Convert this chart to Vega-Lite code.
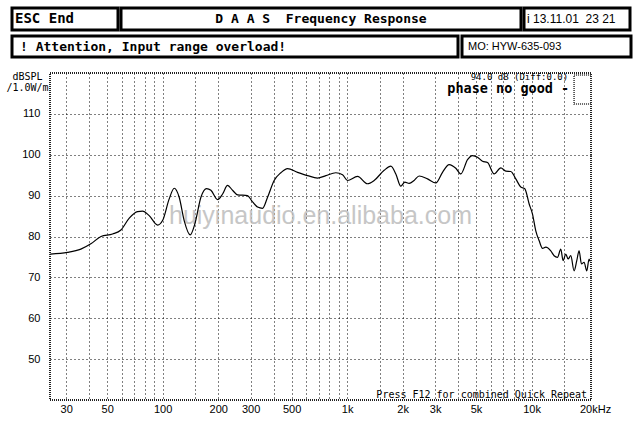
{
  "$schema": "https://vega.github.io/schema/vega-lite/v6.json",
  "padding": {"left": 4, "top": 6, "right": 5, "bottom": 5},
  "background": "white",
  "config": {
    "view": {"stroke": null},
    "axis": {"domain": false, "ticks": false, "labelFont": "Liberation Sans", "labelFontSize": 11, "labelColor": "black"}
  },
  "spacing": 11,
  "vconcat": [
    {
      "spacing": 2,
      "vconcat": [
        {
          "spacing": -1,
          "hconcat": [
            {
              "width": 106, "height": 22,
              "view": {"stroke": "black", "strokeWidth": 3},
              "data": {"values": [{"label": "ESC End"}]},
              "mark": {"type": "text", "align": "left", "baseline": "middle", "dx": 3, "font": "DejaVu Sans Mono", "fontWeight": "bold", "fontSize": 14, "color": "black"},
              "encoding": {"text": {"field": "label"}, "x": {"datum": 0, "scale": {"domain": [0, 1]}, "axis": null}}
            },
            {
              "width": 400, "height": 22,
              "view": {"stroke": "black", "strokeWidth": 3},
              "data": {"values": [{"label": "D A A S\u00a0\u00a0Frequency Response"}]},
              "mark": {"type": "text", "align": "center", "baseline": "middle", "font": "DejaVu Sans Mono", "fontWeight": "bold", "fontSize": 13, "color": "black"},
              "encoding": {"text": {"field": "label"}}
            },
            {
              "width": 106, "height": 22,
              "view": {"stroke": "black", "strokeWidth": 3},
              "data": {"values": [{"label": "i 13.11.01\u00a0 23 21"}]},
              "mark": {"type": "text", "align": "left", "baseline": "middle", "dx": 3, "font": "Liberation Sans", "fontSize": 12, "color": "black"},
              "encoding": {"text": {"field": "label"}, "x": {"datum": 0, "scale": {"domain": [0, 1]}, "axis": null}}
            }
          ]
        },
        {
          "spacing": 0,
          "hconcat": [
            {
              "width": 446, "height": 21,
              "view": {"stroke": "black", "strokeWidth": 3},
              "data": {"values": [{"label": "! Attention, Input range overload!"}]},
              "mark": {"type": "text", "align": "left", "baseline": "middle", "dx": 8, "font": "DejaVu Sans Mono", "fontWeight": "bold", "fontSize": 13, "color": "black"},
              "encoding": {"text": {"field": "label"}, "x": {"datum": 0, "scale": {"domain": [0, 1]}, "axis": null}}
            },
            {
              "width": 169, "height": 21,
              "view": {"stroke": "black", "strokeWidth": 3},
              "data": {"values": [{"label": "MO: HYW-635-093"}]},
              "mark": {"type": "text", "align": "left", "baseline": "middle", "dx": 6, "font": "Liberation Sans", "fontSize": 11, "color": "black"},
              "encoding": {"text": {"field": "label"}, "x": {"datum": 0, "scale": {"domain": [0, 1]}, "axis": null}}
            }
          ]
        }
      ]
    },
    {
      "spacing": -9,
      "hconcat": [
        {
          "width": 1, "height": 327,
          "data": {"values": []},
          "mark": {"type": "point", "opacity": 0},
          "encoding": {}
        },
        {
          "width": 541,
          "height": 327,
          "view": {"stroke": "#222222", "strokeWidth": 2, "strokeDash": [1, 1]},
          "layer": [
            {
              "data": {"values": [{"t": "huiyinaudio.en.alibaba.com"}]},
              "mark": {"type": "text", "font": "Liberation Sans", "fontSize": 25, "color": "#bdbdbd", "opacity": 0.85, "dy": -21},
              "encoding": {"text": {"field": "t"}}
            },
            {
              "data": {"values": [
                {"freq": 24.6, "db": 75.7}, {"freq": 30.5, "db": 76.1}, {"freq": 36, "db": 76.9}, {"freq": 40.8, "db": 78.2},
                {"freq": 46.3, "db": 80.0}, {"freq": 53.5, "db": 80.6}, {"freq": 59.4, "db": 81.6}, {"freq": 65.9, "db": 84.5},
                {"freq": 73.1, "db": 86.1}, {"freq": 77.8, "db": 86.2}, {"freq": 84.5, "db": 85.1}, {"freq": 93.9, "db": 82.8},
                {"freq": 99.9, "db": 83.9}, {"freq": 108.5, "db": 89.2}, {"freq": 115.5, "db": 91.8}, {"freq": 122.9, "db": 89.6},
                {"freq": 130.8, "db": 83.9}, {"freq": 141, "db": 80.4}, {"freq": 149.5, "db": 83.1}, {"freq": 161.2, "db": 89.6},
                {"freq": 173, "db": 91.7}, {"freq": 182.6, "db": 91.3}, {"freq": 198.5, "db": 89.0}, {"freq": 211.3, "db": 90.4},
                {"freq": 224.8, "db": 92.5}, {"freq": 239.3, "db": 91.3}, {"freq": 254.7, "db": 90.2}, {"freq": 288.6, "db": 90.0},
                {"freq": 303.4, "db": 88.8}, {"freq": 326.9, "db": 87.2}, {"freq": 347.9, "db": 86.9}, {"freq": 370.4, "db": 89.6},
                {"freq": 402.2, "db": 93.7}, {"freq": 437.3, "db": 95.6}, {"freq": 475.4, "db": 96.6}, {"freq": 538.6, "db": 95.7},
                {"freq": 610.3, "db": 94.9}, {"freq": 691.4, "db": 94.3}, {"freq": 766.8, "db": 94.9}, {"freq": 868.7, "db": 95.6},
                {"freq": 944.5, "db": 95.1}, {"freq": 1005, "db": 93.7}, {"freq": 1139, "db": 94.7}, {"freq": 1290, "db": 92.9},
                {"freq": 1401, "db": 93.7}, {"freq": 1588, "db": 96.2}, {"freq": 1726, "db": 97.2}, {"freq": 1837, "db": 95.3},
                {"freq": 1955, "db": 92.3}, {"freq": 2055, "db": 93.3}, {"freq": 2169, "db": 93.0}, {"freq": 2308, "db": 93.7},
                {"freq": 2457, "db": 94.8}, {"freq": 2729, "db": 94.1}, {"freq": 3026, "db": 93.1}, {"freq": 3290, "db": 95.7},
                {"freq": 3573, "db": 97.6}, {"freq": 3885, "db": 96.7}, {"freq": 4134, "db": 95.3}, {"freq": 4496, "db": 98.8},
                {"freq": 4785, "db": 99.8}, {"freq": 5092, "db": 99.4}, {"freq": 5420, "db": 98.4}, {"freq": 5769, "db": 98.1},
                {"freq": 6266, "db": 95.3}, {"freq": 6812, "db": 96.8}, {"freq": 7250, "db": 96.0}, {"freq": 7717, "db": 95.9},
                {"freq": 8213, "db": 94.1}, {"freq": 8742, "db": 92.1}, {"freq": 9191, "db": 91.7}, {"freq": 9696, "db": 88.0},
                {"freq": 10116, "db": 85.5}, {"freq": 10541, "db": 81.4}, {"freq": 10985, "db": 79.0}, {"freq": 11462, "db": 77.1},
                {"freq": 11944, "db": 77.4}, {"freq": 12712, "db": 76.5}, {"freq": 13247, "db": 75.3}, {"freq": 13820, "db": 74.9},
                {"freq": 14401, "db": 76.9}, {"freq": 14822, "db": 74.1}, {"freq": 15329, "db": 75.7}, {"freq": 15776, "db": 74.5},
                {"freq": 16316, "db": 75.3}, {"freq": 17002, "db": 71.6}, {"freq": 17583, "db": 74.1}, {"freq": 18097, "db": 76.5},
                {"freq": 18647, "db": 73.3}, {"freq": 19263, "db": 73.7}, {"freq": 19921, "db": 71.6}, {"freq": 20503, "db": 74.5},
                {"freq": 20760, "db": 73.9}
              ]},
              "mark": {"type": "line", "color": "black", "strokeWidth": 1.2, "interpolate": "monotone"},
              "encoding": {
                "x": {
                  "field": "freq", "type": "quantitative",
                  "scale": {"type": "log", "domain": [24.5, 21000], "nice": false},
                  "axis": {
                    "title": null,
                    "values": [30, 40, 50, 60, 70, 80, 90, 100, 150, 200, 300, 400, 500, 600, 700, 800, 900, 1000, 1500, 2000, 3000, 4000, 5000, 6000, 7000, 8000, 9000, 10000, 15000, 20000],
                    "grid": true, "gridDash": [1, 3], "gridColor": "black", "gridWidth": 1,
                    "gridOpacity": {"condition": {"test": "datum.value == 20000", "value": 0}, "value": 1},
                    "labelExpr": "indexof([30,50,100,200,300,500], datum.value) >= 0 ? '' + datum.value : indexof([1000,2000,3000,5000,10000], datum.value) >= 0 ? (datum.value/1000) + 'k' : datum.value == 20000 ? '20kHz' : ''",
                    "labelOffset": {"condition": {"test": "datum.value == 20000", "value": 8}, "value": 0},
                    "labelPadding": 3, "labelFlush": false, "labelOverlap": false
                  }
                },
                "y": {
                  "field": "db", "type": "quantitative",
                  "scale": {"domain": [40, 120], "nice": false, "zero": false},
                  "axis": {
                    "values": [50, 60, 70, 80, 90, 100, 110],
                    "grid": true, "gridDash": [1, 3], "gridColor": "black", "gridWidth": 1,
                    "labelPadding": 10,
                    "title": ["dBSPL", "/1.0W/m"],
                    "titleAngle": 0, "titleX": -23, "titleY": -2, "titleAlign": "center", "titleBaseline": "top",
                    "titleFont": "DejaVu Sans Mono", "titleFontSize": 10, "titleFontWeight": "normal", "titleLineHeight": 11, "titleColor": "black"
                  }
                }
              }
            },
            {
              "data": {"values": [{"t": "area"}]},
              "mark": {"type": "rect", "fill": null, "stroke": "#333333", "strokeWidth": 1.5, "strokeDash": [1, 1]},
              "encoding": {"x": {"datum": 17000}, "x2": {"datum": 21000}, "y": {"datum": 119.5}, "y2": {"datum": 112.4}}
            },
            {
              "data": {"values": [{"t": "94.0 dB (Diff:0.0)"}]},
              "mark": {"type": "text", "align": "right", "baseline": "middle", "font": "DejaVu Sans Mono", "fontSize": 9, "color": "black"},
              "encoding": {"text": {"field": "t"}, "x": {"datum": 15800}, "y": {"datum": 118.9}}
            },
            {
              "data": {"values": [{"t": "phase no good -"}]},
              "mark": {"type": "text", "align": "right", "baseline": "middle", "font": "DejaVu Sans Mono", "fontWeight": "bold", "fontSize": 13.5, "color": "black"},
              "encoding": {"text": {"field": "t"}, "x": {"datum": 16000}, "y": {"datum": 116.2}}
            },
            {
              "data": {"values": [{"t": "Press F12 for combined Quick Repeat"}]},
              "mark": {"type": "text", "align": "right", "baseline": "alphabetic", "font": "DejaVu Sans Mono", "fontSize": 10, "color": "black"},
              "encoding": {"text": {"field": "t"}, "x": {"datum": 20000}, "y": {"datum": 40.5}}
            }
          ]
        }
      ]
    }
  ]
}
